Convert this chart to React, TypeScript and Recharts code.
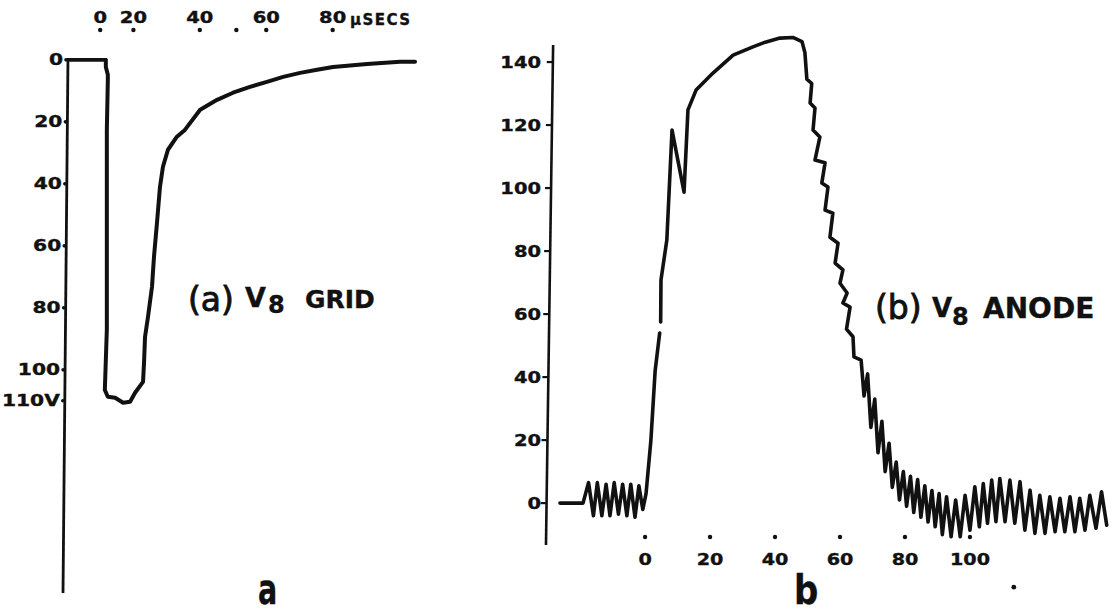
import { Line, LineChart, ReferenceDot, ReferenceLine, XAxis, YAxis } from "recharts";

const FONT = "'DejaVu Sans', Verdana, sans-serif";
const INK = "#111";

// (a) V8 grid — time in µs, negative swing in volts (drawn downward)
const gridTime = [
  0.9, 11.7, 11.7, 12.3, 12.3, 12.0, 12.0, 11.4, 12.3, 14.5, 16.9, 19.0, 20.5,
  22.9, 23.2, 23.5, 24.4, 25.6, 26.2, 27.1, 28.0, 28.9, 30.4, 33.1, 35.5, 40.1,
  45.2, 50.0, 55.1, 60.2, 65.1, 70.2, 75.3, 80.1, 90.4, 100.3, 104.8,
];
const gridVolts = [
  0, 0, 2.3, 4.8, 6.5, 22.6, 87, 106.5, 108.7, 109, 110.6, 110.3, 107.4, 103.9,
  97.7, 89.4, 82.9, 73.2, 63.5, 52.6, 41, 34.5, 29, 24.8, 22.6, 16.1, 12.9,
  10.6, 8.7, 7.1, 5.5, 4.2, 3.2, 2.3, 1.3, 0.6, 0.6,
];
const gridTimeTicks = [10, 20, 40, 51, 60, 80];
const gridTimeLabels = ["0", "20", "40", "", "60", "80"];
const gridVoltTicks = [0, 20, 40, 60, 80, 100, 110];
const gridVoltLabels = ["0", "20", "40", "60", "80", "100", "110V"];

// (b) V8 anode — time in µs, volts
const anodeTime = [
  -26.2, -19.1, -17.4, -15.9, -14.7, -13.3, -12.0, -10.8, -9.5, -8.2, -6.9, -5.6,
  -4.4, -3.1, -1.9, -0.7,
  0.3, 1.8, 3.1, 4.5, 4.65, 4.8, 4.9, 6.7, 8.3, 12.0, 13.2, 15.7, 20.9, 27.1,
  33.2, 37.0, 41.5, 45.5, 48.3, 49.2, 49.8,
  51.3, 50.8, 52.3, 51.7, 53.8, 52.3, 55.4, 54.4, 56.3, 55.4, 57.8, 56.9, 59.4,
  58.5, 60.9, 60.0, 62.2, 60.9, 63.1, 62.0, 64.0, 64.3, 66.5,
  67.4, 68.5, 69.5, 70.7, 71.7, 72.9, 73.9, 75.1, 76.1, 77.3, 78.3, 79.5, 80.5,
  81.7, 82.7, 83.9, 84.9, 86.1, 87.1, 88.3, 89.3, 90.5, 91.5, 92.8,
  94.2, 95.6, 97.0, 98.5, 100, 101.5, 102.9, 104.1, 105.4, 106.7, 108, 109.2,
  110.8, 112.3, 113.8, 115.4, 116.9, 118.5, 120, 121.5, 123.1, 124.6, 126.2,
  127.7, 129.2, 130.8, 132.3, 133.8, 135.4, 136.9, 138.8, 140.5, 142.1,
];
const anodeVolts: (number | null)[] = [
  0, 0, 6.5, -4, 6.5, -4, 6, -4, 6.5, -3.5, 6, -4, 6, -4.5, 5.5, -2,
  3, 20, 42, 54, null, 57.5, 70.8, 83.5, 118.4, 98.7, 124.8, 131.1, 136.5, 142.2,
  144.8, 146.3, 147.6, 147.8, 146.5, 143, 134.6,
  133.2, 127, 125.4, 118.4, 116.2, 108.9, 108, 101.6, 100.3, 93, 92, 84.4, 82.5,
  76.2, 74, 69.8, 66.7, 63.5, 62.2, 55.2, 52.8, 46.4, 45.4,
  34, 41, 24, 33, 16, 26, 10, 19, 5, 13, 1, 10, -1,
  8.5, -3, 7.5, -4.5, 5.5, -6, 4, -7.5, 3, -10, 2,
  -10.7, 1, -10.7, 2.5, -8.6, 5.2, -7.5, 6.2, -6.4, 7.3, -5.9, 7.8,
  -5.9, 7.3, -6.4, 6.8, -8.6, 4.1, -9.6, 2.5, -9.6, 2.0, -9.1,
  1.5, -9.1, 2.0, -9.1, 1.5, -8.6, 2.5, -8.0, 3.6, -7.0,
];
const anodeTimeTicks = [0, 20, 40, 60, 80, 100];
const anodeVoltTicks = [0, 20, 40, 60, 80, 100, 120, 140];

const gridData = gridTime.map((t, i) => ({ t, v: gridVolts[i] }));
const anodeData = anodeTime.map((t, i) => ({ t, v: anodeVolts[i] }));

function Lettering({ x, y, sx = 1, anchor = "start", size, weight = "bold", heavy = 0.35, children }: any) {
  return (
    <text
      transform={`translate(${x},${y}) scale(${sx},1)`}
      textAnchor={anchor}
      fontSize={size}
      fontWeight={weight}
      fontFamily={FONT}
      fill={INK}
      stroke={INK}
      strokeWidth={heavy}
    >
      {children}
    </text>
  );
}

function GridTimeTick(props: any) {
  const { x, y, payload } = props;
  const label = gridTimeLabels[gridTimeTicks.indexOf(payload.value)];
  return (
    <g>
      <circle cx={x} cy={y - 28} r={2.2} fill={INK} />
      {label ? (
        <Lettering x={x} y={y - 35} sx={1.3} size={15} anchor="middle">
          {label}
        </Lettering>
      ) : null}
    </g>
  );
}

function GridVoltTick(props: any) {
  const { y, payload } = props;
  const label = gridVoltLabels[gridVoltTicks.indexOf(payload.value)];
  const ax = 68 - (5 * (y - 58)) / 535;
  return (
    <g>
      <circle cx={ax - 2} cy={y} r={1.8} fill={INK} />
      <Lettering x={ax - 5} y={y + 5.5} sx={1.35} size={15} anchor="end">
        {label}
      </Lettering>
    </g>
  );
}

function AnodeTimeTick(props: any) {
  const { x, y, payload } = props;
  return (
    <g>
      <circle cx={x} cy={y - 8} r={2.2} fill={INK} />
      <Lettering x={x} y={y + 20} sx={1.2} size={16} anchor="middle">
        {String(payload.value)}
      </Lettering>
    </g>
  );
}

function AnodeVoltTick(props: any) {
  const { x, y, payload } = props;
  const ax = 546 - 480 + (7 * (545 - y)) / 500;
  return (
    <g>
      <line x1={ax - 6} x2={ax} y1={y} y2={y} stroke={INK} strokeWidth={2.2} />
      <Lettering x={x - 4} y={y + 5.5} sx={1.3} size={15} anchor="end">
        {String(payload.value)}
      </Lettering>
    </g>
  );
}

export default function App() {
  return (
    <div style={{ position: "absolute", left: 0, top: 0, width: 1112, height: 615, background: "#fff" }}>
      <div style={{ position: "absolute", left: 0, top: 0 }}>
        <LineChart width={440} height={615} data={gridData} margin={{ top: 18, right: 21, bottom: 22, left: 3 }}>
          <XAxis
            dataKey="t"
            type="number"
            orientation="top"
            domain={[-1.2, 106]}
            ticks={gridTimeTicks}
            interval={0}
            axisLine={false}
            tickLine={false}
            tickSize={0}
            tickMargin={0}
            height={40}
            tick={(p: any) => <GridTimeTick {...p} />}
            allowDataOverflow
          />
          <YAxis
            type="number"
            reversed
            domain={[-0.6, 172]}
            ticks={gridVoltTicks}
            interval={0}
            axisLine={false}
            tickLine={false}
            tickSize={0}
            tickMargin={0}
            width={60}
            tick={(p: any) => <GridVoltTick {...p} />}
            allowDataOverflow
          />
          <ReferenceLine
            segment={[{ x: 0.3, y: -0.6 }, { x: -1.2, y: 172 }]}
            stroke={INK}
            strokeWidth={2.8}
            ifOverflow="visible"
          />
          <Line
            dataKey="v"
            type="linear"
            stroke={INK}
            strokeWidth={4}
            strokeLinejoin="round"
            strokeLinecap="round"
            dot={false}
            activeDot={false}
            isAnimationActive={false}
          />
        </LineChart>
      </div>

      <div style={{ position: "absolute", left: 480, top: 0 }}>
        <LineChart width={632} height={615} data={anodeData} margin={{ top: 34, right: 3, bottom: 30, left: 5 }}>
          <XAxis
            dataKey="t"
            type="number"
            domain={[-30.8, 142.8]}
            ticks={anodeTimeTicks}
            interval={0}
            axisLine={false}
            tickLine={false}
            tickSize={0}
            tickMargin={0}
            height={40}
            tick={(p: any) => <AnodeTimeTick {...p} />}
            allowDataOverflow
          />
          <YAxis
            type="number"
            domain={[-13.3, 148.9]}
            ticks={anodeVoltTicks}
            interval={0}
            axisLine={false}
            tickLine={false}
            tickSize={0}
            tickMargin={0}
            width={60}
            tick={(p: any) => <AnodeVoltTick {...p} />}
            allowDataOverflow
          />
          <ReferenceLine
            segment={[{ x: -28.3, y: 145.4 }, { x: -30.5, y: -13.3 }]}
            stroke={INK}
            strokeWidth={2.6}
            ifOverflow="visible"
          />
          <ReferenceDot x={113.5} y={-26.7} r={2.4} fill={INK} stroke="none" ifOverflow="visible" />
          <Line
            dataKey="v"
            type="linear"
            stroke={INK}
            strokeWidth={3.6}
            strokeLinejoin="round"
            strokeLinecap="round"
            dot={false}
            activeDot={false}
            connectNulls={false}
            isAnimationActive={false}
          />
        </LineChart>
      </div>

      <svg width={1112} height={615} style={{ position: "absolute", left: 0, top: 0, pointerEvents: "none" }}>
        <Lettering x={350} y={25} size={15}>
          <tspan letterSpacing={1.5}>µSECS</tspan>
        </Lettering>

        <Lettering x={188} y={311} size={33} weight="normal" heavy={0.9}>(a)</Lettering>
        <Lettering x={245} y={307} size={27}>V</Lettering>
        <Lettering x={268} y={313} size={24}>8</Lettering>
        <Lettering x={305} y={308} size={25}>GRID</Lettering>

        <Lettering x={875} y={319} size={33} weight="normal" heavy={0.9}>(b)</Lettering>
        <Lettering x={932} y={317} size={26}>V</Lettering>
        <Lettering x={952} y={325} size={24}>8</Lettering>
        <Lettering x={983} y={318} size={28}>ANODE</Lettering>

        <Lettering x={258} y={604} sx={0.68} size={42}>a</Lettering>
        <Lettering x={794} y={604} sx={0.85} size={40}>b</Lettering>
      </svg>
    </div>
  );
}
